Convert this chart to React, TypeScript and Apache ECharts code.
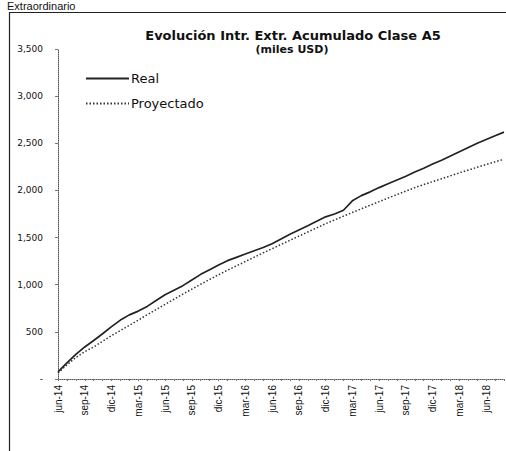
import React, { useEffect, useRef } from "react";
import * as echarts from "echarts";

const months = [
  "jun-14","jul-14","ago-14","sep-14","oct-14","nov-14","dic-14","ene-15","feb-15","mar-15","abr-15","may-15",
  "jun-15","jul-15","ago-15","sep-15","oct-15","nov-15","dic-15","ene-16","feb-16","mar-16","abr-16","may-16",
  "jun-16","jul-16","ago-16","sep-16","oct-16","nov-16","dic-16","ene-17","feb-17","mar-17","abr-17","may-17",
  "jun-17","jul-17","ago-17","sep-17","oct-17","nov-17","dic-17","ene-18","feb-18","mar-18","abr-18","may-18",
  "jun-18","jul-18","ago-18",
];

const real = [
  75,170,262,340,408,480,555,625,680,720,770,832,
  894,942,990,1050,1110,1160,1210,1255,1290,1325,1360,1395,
  1435,1485,1535,1580,1625,1672,1720,1750,1790,1890,1945,1985,
  2030,2070,2110,2150,2195,2235,2280,2320,2365,2410,2455,2500,
  2540,2580,2618,
];

const proyectado = [
  64,150,228,290,340,400,460,515,570,625,681,737,
  792,846,900,953,1005,1056,1106,1154,1200,1246,1292,1337,
  1382,1427,1471,1515,1559,1603,1647,1687,1727,1766,1805,1843,
  1881,1919,1956,1993,2030,2062,2093,2124,2155,2186,2216,2246,
  2275,2303,2330,
];

const titleText = "Evolución Intr. Extr. Acumulado Clase A5";
const subtitleText = "(miles USD)";
const headerText = "Extraordinario";

export default function App() {
  const ref = useRef<HTMLDivElement>(null);
  useEffect(() => {
    if (!ref.current) return;
    const chart = echarts.init(ref.current, null, { renderer: "svg" });
    chart.setOption({
      animation: false,
      backgroundColor: "#ffffff",
      title: [
        {
          text: titleText,
          left: 288,
          top: 24,
          textAlign: "center",
          textStyle: { fontFamily: "DejaVu Sans", fontWeight: "bold", fontSize: 13, color: "#111" },
        },
        {
          text: subtitleText,
          left: 287,
          top: 39,
          textAlign: "center",
          textStyle: { fontFamily: "DejaVu Sans", fontWeight: "bold", fontSize: 11, color: "#111" },
        },
      ],
      legend: {
        orient: "vertical",
        left: 80,
        top: 67,
        itemWidth: 43,
        itemHeight: 14,
        itemGap: 12,
        data: ["Real", "Proyectado"],
        itemStyle: { opacity: 0, color: "transparent", borderWidth: 0 },
        textStyle: { fontFamily: "DejaVu Sans", fontSize: 13, color: "#111", padding: [0, 0, 0, -3] },
      },
      graphic: [
        { type: "text", left: 7, top: 0, style: { text: headerText, font: "11px 'Liberation Sans'", fill: "#111" } },
        { type: "line", shape: { x1: 9, y1: 12.5, x2: 506, y2: 12.5 }, style: { stroke: "#222", lineWidth: 1 } },
        { type: "line", shape: { x1: 9.5, y1: 12, x2: 9.5, y2: 451 }, style: { stroke: "#222", lineWidth: 1.2 } },
      ],
      grid: { left: 58, right: 2, top: 49, bottom: 72, containLabel: false },
      xAxis: {
        type: "category",
        data: months,
        boundaryGap: false,
        axisLine: { lineStyle: { color: "#555", type: "dotted", width: 1 } },
        axisTick: { show: true, interval: 0, length: 2, lineStyle: { color: "#777" } },
        axisLabel: {
          interval: 2,
          rotate: 90,
          margin: 6,
          fontFamily: "Liberation Sans",
          fontSize: 10,
          color: "#111",
        },
        splitLine: { show: false },
      },
      yAxis: {
        type: "value",
        min: 0,
        max: 3500,
        interval: 500,
        axisLine: { show: true, lineStyle: { color: "#555", type: "dotted", width: 1 } },
        axisTick: { show: true, length: 3, inside: false, lineStyle: { color: "#777" } },
        splitLine: { show: false },
        axisLabel: {
          margin: 15,
          fontFamily: "DejaVu Sans",
          fontSize: 9,
          color: "#111",
          formatter: (v: number) => (v === 0 ? "-" : v.toLocaleString("en-US")),
        },
      },
      series: [
        {
          name: "Real",
          type: "line",
          data: real,
          symbol: "none",
          lineStyle: { color: "#222", width: 1.7, type: "solid" },
          itemStyle: { color: "#222" },
        },
        {
          name: "Proyectado",
          type: "line",
          data: proyectado,
          symbol: "none",
          lineStyle: { color: "#333", width: 1.5, type: [1.5, 2] },
          itemStyle: { color: "#333" },
        },
      ],
    });
    return () => chart.dispose();
  }, []);
  return (
    <div
      ref={ref}
      style={{ position: "absolute", left: 0, top: 0, width: 506, height: 451 }}
    />
  );
}
